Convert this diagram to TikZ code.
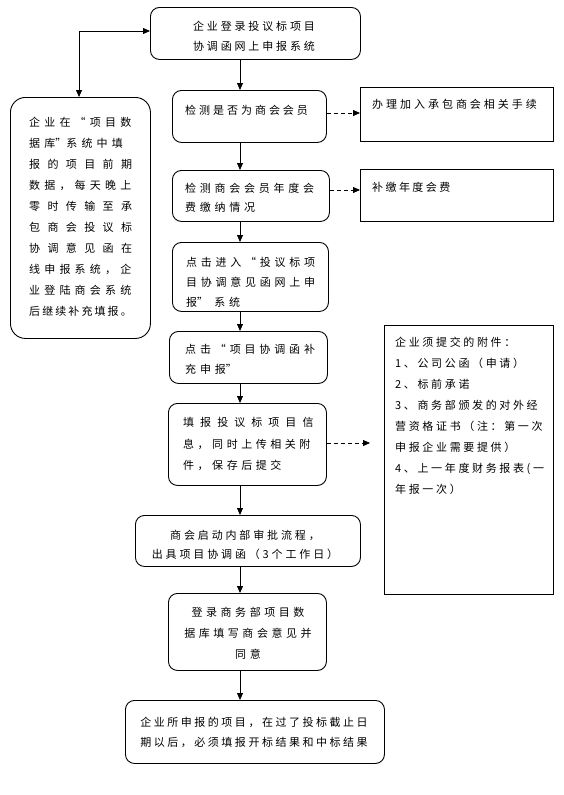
\documentclass[tikz,border=0pt]{standalone}
\usepackage{fontspec}
\usetikzlibrary{arrows.meta}
\newfontfamily\cjk{Noto Sans CJK SC}
\newcommand\LS[1]{\addfontfeature{LetterSpace=#1}}
\newcommand\oq[1]{\hspace{#1em}\makebox[1em][r]{“}\hspace{#1em}}
\newcommand\cq{\makebox[1em][l]{”}}
\begin{document}
\begin{tikzpicture}[x=1pt,y=-1pt,
  rbox/.style={draw, rounded corners=9pt, line width=0.9pt, inner sep=0pt, anchor=north west},
  sbox/.style={draw, line width=0.9pt, inner sep=0pt, anchor=north west},
  arr/.style={-{Triangle[length=7pt,width=6pt]}, line width=0.8pt},
  darr/.style={arr, dash pattern=on 4pt off 3pt},
  txt/.style={inner sep=0pt, anchor=north west, align=left, font=\cjk\fontsize{11}{20}\selectfont},
  ctxt/.style={txt, anchor=north, align=center}]
\useasboundingbox (0,0) rectangle (564,795);
\fill[white] (0,0) rectangle (564,795);
% boxes
\node[rbox, minimum width=210pt, minimum height=52pt] (b1) at (150,7) {};
\node[rbox, minimum width=154pt, minimum height=52pt] (b2) at (172,90) {};
\node[sbox, minimum width=193pt, minimum height=54pt] (r2) at (360,87) {};
\node[rbox, minimum width=157pt, minimum height=51pt] (b3) at (172,170) {};
\node[sbox, minimum width=193pt, minimum height=52pt] (r3) at (360,169) {};
\node[rbox, minimum width=156pt, minimum height=69pt] (b4) at (172,242) {};
\node[rbox, minimum width=158pt, minimum height=52pt] (b5) at (169,331) {};
\node[rbox, minimum width=158pt, minimum height=82pt] (b6) at (168,403) {};
\node[sbox, minimum width=169pt, minimum height=269pt] (at) at (384,325) {};
\node[rbox, minimum width=225pt, minimum height=51pt] (b7) at (135,515) {};
\node[rbox, minimum width=158pt, minimum height=77pt] (b8) at (168,593) {};
\node[rbox, minimum width=259pt, minimum height=63pt] (b9) at (125,700) {};
\node[rbox, rounded corners=15pt, minimum width=140pt, minimum height=241pt] (lb) at (10,97) {};
% texts
\node[ctxt, font=\cjk\fontsize{11}{20}\selectfont\LS{26}] (t1) at (254,20.5) {企业登录投议标项目\\协调函网上申报系统};
\node[txt, font=\cjk\fontsize{11}{20}\selectfont\LS{27}] (t2) at (185,104.5) {检测是否为商会会员};
\node[txt, font=\cjk\fontsize{11}{20}\selectfont\LS{27}] (tr2) at (372,99.5) {办理加入承包商会相关手续};
\node[txt, font=\cjk\fontsize{11}{19}\selectfont\LS{34}] (t3) at (185,182.5) {检测商会会员年度会\\费缴纳情况};
\node[txt, font=\cjk\fontsize{11}{20}\selectfont\LS{22}] (tr3) at (372,182.5) {补缴年度会费};
\node[txt, font=\cjk\fontsize{11}{20}\selectfont\LS{34}] (t4) at (186,256.5) {点击进入\oq{0.34}投议标项\\目协调意见函网上申\\报\cq\ 系统};
\node[txt, font=\cjk\fontsize{11}{20}\selectfont\LS{35}] (t5) at (185,343.5) {点击\oq{0.35}项目协调函补\\充申报\cq};
\node[txt, font=\cjk\fontsize{11}{21.5}\selectfont\LS{32}] (t6) at (183,417.5) {{\LS{55}填报投议标项目信}\\息，同时上传相关附\\件，保存后提交};
\node[txt, font=\cjk\fontsize{11}{21}\selectfont\LS{24}] (ta) at (395,336.5) {企业须提交的附件：\\1、公司公函（申请）\\2、标前承诺\\3、商务部颁发的对外经\\营资格证书（注：第一次\\申报企业需要提供）\\4、上一年度财务报表(一\\年报一次）};
\node[ctxt, font=\cjk\fontsize{11}{19}\selectfont\LS{26}] (t7) at (245,529.5) {商会启动内部审批流程，\\出具项目协调函（3个工作日）};
\node[ctxt, font=\cjk\fontsize{11}{21}\selectfont\LS{32}] (t8) at (248,607.5) {登录商务部项目数\\据库填写商会意见并\\同意};
\node[ctxt, font=\cjk\fontsize{11}{20}\selectfont\LS{23}] (t9) at (254,716.5) {企业所申报的项目，在过了投标截止日\\期以后，必须填报开标结果和中标结果};
\node[txt, font=\cjk\fontsize{11}{21.1}\selectfont] (tl) at (29,116.5) {{\LS{38}企业在\oq{0.38}项目数}\\{\LS{38}据库\cq 系统中填}\\{\LS{67}报的项目前期}\\{\LS{38}数据，每天晚上}\\{\LS{67}零时传输至承}\\{\LS{67}包商会投议标}\\{\LS{67}协调意见函在}\\{\LS{38}线申报系统，企}\\{\LS{38}业登陆商会系统}\\{\LS{19}后继续补充填报。}};
% connectors
\coordinate (ax) at (240,0);
\draw[arr] (b1.south -| ax) -- (b2.north -| ax);
\draw[arr] (b2.south -| ax) -- (b3.north -| ax);
\draw[arr] (b3.south -| ax) -- (b4.north -| ax);
\draw[arr] (b4.south -| ax) -- (b5.north -| ax);
\draw[arr] (b5.south -| ax) -- (b6.north -| ax);
\draw[arr] (b6.south -| ax) -- (b7.north -| ax);
\draw[arr] (b7.south -| ax) -- (b8.north -| ax);
\draw[arr] (b8.south -| ax) -- (b9.north -| ax);
\coordinate (d2) at (0,113);
\coordinate (d3) at (0,190);
\draw[darr] (b2.east |- d2) -- (r2.west |- d2);
\draw[darr] (b3.east |- d3) -- (r3.west |- d3);
\coordinate (d6) at (370,443);
\draw[darr] (b6.east |- d6) -- (d6);
\coordinate (lc) at (79,31);
\draw[arr] (lc) -- (lc -| b1.west);
\draw[arr] (lc) -- (lc |- lb.north);
\end{tikzpicture}
\end{document}
